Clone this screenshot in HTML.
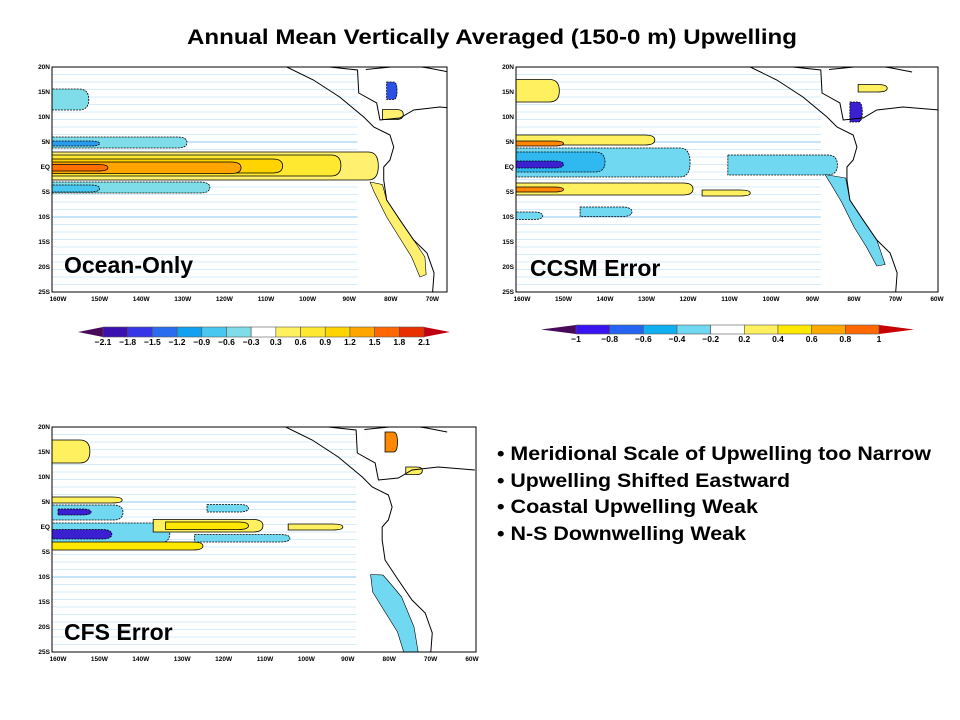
<!DOCTYPE html>
<html><head><meta charset="utf-8">
<style>
html,body{margin:0;padding:0;background:#fff;}
svg{display:block;font-family:"Liberation Sans",sans-serif;}
</style></head>
<body>
<svg id="fig" width="960" height="720" viewBox="0 0 960 720" xmlns="http://www.w3.org/2000/svg">
<text x="187" y="44" textLength="610" lengthAdjust="spacingAndGlyphs" font-size="21" font-weight="bold">Annual Mean Vertically Averaged (150-0 m) Upwelling</text>
<g id="p1"></g>
<g id="p2"></g>
<g id="p3"></g>
<g id="cb1"></g>
<g id="cb2"></g>
<g font-size="19" font-weight="bold">
<text x="497" y="460" textLength="434" lengthAdjust="spacingAndGlyphs">• Meridional Scale of Upwelling too Narrow</text>
<text x="497" y="487" textLength="293" lengthAdjust="spacingAndGlyphs">• Upwelling Shifted Eastward</text>
<text x="497" y="513" textLength="261" lengthAdjust="spacingAndGlyphs">• Coastal Upwelling Weak</text>
<text x="497" y="540" textLength="249" lengthAdjust="spacingAndGlyphs">• N-S Downwelling Weak</text>
</g>
</svg>
<script>
const NS="http://www.w3.org/2000/svg";
const lonTicks=[-160,-150,-140,-130,-120,-110,-100,-90,-80,-70,-60];
const lonLabels=["160W","150W","140W","130W","120W","110W","100W","90W","80W","70W","60W"];
const latTicks=[20,15,10,5,0,-5,-10,-15,-20,-25];
const latLabels=["20N","15N","10N","5N","EQ","5S","10S","15S","20S","25S"];
const cb1Levels=["-2.1","-1.8","-1.5","-1.2","-0.9","-0.6","-0.3","0.3","0.6","0.9","1.2","1.5","1.8","2.1"];
const cb1Colors=["#4a0a5a","#3a10b0","#3636e8","#2a6cf0","#12a0f0","#48c8f0","#7edde8","#ffffff","#fff060","#ffe830","#ffd400","#ffa500","#ff6800","#e83000","#c00010"];
const cb2Levels=["-1","-0.8","-0.6","-0.4","-0.2","0.2","0.4","0.6","0.8","1"];
const cb2Colors=["#4a0a5a","#3a14f0","#2464f0","#10b0f0","#70d8f0","#ffffff","#fff060","#ffe800","#ffa800","#ff6800","#c80000"];
const colorOf={"-1.5":"#2a50e8","-1.0":"#3a20d0","-0.9":"#48c8f0","-0.6":"#2a9cf0","-0.4":"#30b8f0","-0.3":"#7edde8","-0.2":"#70d8f0","0.2":"#fff060","0.3":"#fff070","0.4":"#ffe800","0.6":"#ffe830","0.8":"#ff8800","0.9":"#ffd400","1.2":"#ffa500","1.5":"#ff7000"};
// bands: [lonWest, lonEast, latSouth, latNorth, level]
const bands1=[[-162,-83,-2.6,3.0,"0.3"],[-162,-92,-1.8,2.4,"0.6"],[-162,-106,-1.2,1.6,"0.9"],[-162,-116,-1.3,1.0,"1.2"],[-162,-148,-0.8,0.5,"1.5"],
[-162,-129,3.8,6.0,"-0.3"],[-162,-150,4.2,5.2,"-0.6"],[-162,-123.5,-5.2,-3.0,"-0.3"],[-162,-150,-5.0,-3.6,"-0.9"],[-162,-152.6,11.4,15.6,"-0.3"],[-81,-78.5,13.5,17,"-1.5"],[-82,-77,9.5,11.5,"0.3"]];
const bands2=[[-162,-151,13,17.5,"0.2"],[-162,-128,4.4,6.4,"0.2"],[-162,-150,4.2,5.2,"0.8"],[-162,-119.5,-2.0,3.8,"-0.2"],[-162,-140,-1.0,3.0,"-0.4"],[-162,-150,-0.2,1.2,"-1.0"],
[-110.4,-84,-1.6,2.4,"-0.2"],[-162,-118.8,-5.6,-3.2,"0.2"],[-162,-150,-5.0,-4.0,"0.8"],[-116.6,-105,-5.8,-4.6,"0.2"],[-146,-133.5,-9.9,-8,"-0.2"],[-162,-155,-10.5,-9,"-0.2"],[-81,-78,9,13,"-1.0"],[-79,-72,15,16.5,"0.2"]];
const bands3=[[-162,-152.3,12.8,17.4,"0.2"],[-162,-144.5,4.8,6.0,"0.2"],[-162,-144.3,1.4,4.4,"-0.2"],[-160,-152,2.4,3.6,"-1.0"],[-162,-133,-3.2,0.8,"-0.2"],[-162,-147,-2.4,-0.5,"-1.0"],
[-162,-125,-4.6,-3.0,"0.4"],[-137,-110.5,-1,1.5,"0.2"],[-134,-114,-0.5,1.0,"0.4"],[-104.4,-91.2,-0.6,0.6,"0.2"],[-127,-104,-3,-1.5,"-0.2"],[-124,-114,3,4.5,"-0.2"],[-81,-78,15,19,"0.8"],[-76,-72,10.5,12,"0.2"]];
const strip1=[[-85,-3],[-82,-3.5],[-81,-6.6],[-77.8,-10.6],[-74.5,-14.6],[-71.8,-18],[-71.5,-21.5],[-73,-22],[-75,-18],[-78,-14],[-81,-10],[-84,-5]];
const strip2=[[-87,-1.5],[-82,-2.2],[-81,-6.6],[-77.8,-10.6],[-74.5,-14.6],[-72.5,-19.5],[-74.5,-19.8],[-77,-16],[-80,-12],[-83,-7],[-85.5,-3.5]];
const strip3=[[-84.5,-9.5],[-81.5,-9.6],[-79,-12],[-77,-14],[-75.5,-17],[-74,-20],[-73,-25],[-76.5,-25],[-78,-21],[-81,-17],[-84,-13]];
const coastW=[[-105,20],[-98.6,17.4],[-92.3,14],[-86.5,10],[-84.1,8],[-80.2,6.4],[-79.3,4],[-80.2,1.4],[-81.7,0],[-81.7,-2.6],[-81,-6.6],[-77.8,-10.6],[-74.5,-14.6],[-71.3,-17.2],[-69.6,-21.2],[-70,-25.5]];
const coastE=[[-94.7,20],[-88,19.4],[-87.7,14.8],[-83.4,12.8],[-82.6,9.4],[-77.8,9.8],[-74.5,11.4],[-68.2,12],[-59.3,11.4]];
const coastC=[[-86,19.5],[-80,20],[-75,20.3],[-71,19.8],[-66,19]];
function el(t,a,p){const e=document.createElementNS(NS,t);for(const k in a)e.setAttribute(k,a[k]);p.appendChild(e);return e;}
function panel(id,cfg,bands,label,lx,ly,strip,stripLv){
 const g=document.getElementById(id);
 const X=l=>cfg.x0+(l+160)*cfg.sx, Y=la=>cfg.yEq-la*5;
 const cid="clip"+id;
 const d=el("defs",{},g);const cp=el("clipPath",{id:cid},d);el("rect",{x:cfg.l,y:cfg.t,width:cfg.r-cfg.l,height:cfg.b-cfg.t},cp);
 const inner=el("g",{"clip-path":"url(#"+cid+")"},g);
 for(let la=-25;la<=20;la+=1.5){const ln=el("line",{x1:cfg.l,x2:X(-88),y1:Y(la),y2:Y(la),stroke:(Math.abs(la%5)<0.01)?"#8cc8f0":"#d4ecfa","stroke-width":1},inner);
  
  }
 bands.forEach(bd=>{const [w,e,s,n,lv]=bd;const xw=X(w),xe=X(e),ys=Y(s),yn=Y(n),ym=(ys+yn)/2;
  const k=Math.min(10,(xe-xw)/3);
  const dd=`M${xw},${yn} L${xe-k},${yn} Q${xe},${yn} ${xe},${ym} Q${xe},${ys} ${xe-k},${ys} L${xw},${ys} Z`;
  const p=el("path",{d:dd,fill:colorOf[lv],stroke:"#000","stroke-width":0.8,"stroke-dasharray":lv.startsWith("-")?"2,1":"none"},inner);
  
  });
 const sp=el("polygon",{points:strip.map(p=>X(p[0])+","+Y(p[1])).join(" "),fill:colorOf[stripLv],stroke:"#000","stroke-width":0.6,"stroke-linejoin":"round"},inner);
 
 
 [coastW,coastE,coastC].forEach(cs=>{const pl=el("polyline",{points:cs.map(p=>X(p[0])+","+Y(p[1])).join(" "),fill:"none",stroke:"#000","stroke-width":1},inner);
  
  });
 const fr=el("rect",{x:cfg.l,y:cfg.t,width:cfg.r-cfg.l,height:cfg.b-cfg.t,fill:"none",stroke:"#000","stroke-width":1},g);
 
 
 lonTicks.forEach((l,i)=>{const x=X(l);if(x>cfg.r+2)return;const t=el("text",{x:x,y:cfg.b+9,"text-anchor":"middle","font-size":6.5,"font-weight":"bold"},g);t.textContent=lonLabels[i];
  
  });
 latTicks.forEach((la,i)=>{const t=el("text",{x:cfg.l-2,y:Y(la)+2,"text-anchor":"end","font-size":6.5,"font-weight":"bold"},g);t.textContent=latLabels[i];
  
  });
 const lt=el("text",{x:lx,y:ly,"font-size":23,"font-weight":"bold"},g);lt.textContent=label;
 
 
}
panel("p1",{x0:58,sx:4.16,yEq:167,l:52,r:447,t:67,b:292},bands1,"Ocean-Only",64,273,strip1,"0.3");
panel("p2",{x0:522,sx:4.15,yEq:167,l:516,r:938,t:67,b:292},bands2,"CCSM Error",530,276,strip2,"-0.2");
panel("p3",{x0:58,sx:4.14,yEq:527,l:52,r:476,t:427,b:652},bands3,"CFS Error",64,640,strip3,"-0.2");
function colorbar(id,x0,x1,a0,a1,y,h,colors,levels){
 const g=document.getElementById(id);const n=colors.length-2;const w=(a1-a0)/n;
 const t1=el("polygon",{points:`${x0},${y+h/2} ${a0},${y} ${a0},${y+h}`,fill:colors[0]},g);
 
 
 const t2=el("polygon",{points:`${x1},${y+h/2} ${a1},${y} ${a1},${y+h}`,fill:colors[colors.length-1]},g);
 
 
 for(let i=0;i<n;i++){const r=el("rect",{x:a0+i*w,y:y,width:w,height:h,fill:colors[i+1],stroke:"#555","stroke-width":0.6},g);
  
  }
 levels.forEach((lv,i)=>{const t=el("text",{x:a0+i*w,y:y+h+8,"text-anchor":"middle","font-size":8.5,"font-weight":"bold"},g);t.textContent=lv.replace("-","\u2212");
  
  });
}
colorbar("cb1",78,450,103,424,327,10,cb1Colors,cb1Levels);
colorbar("cb2",541,914,576,879,325,9,cb2Colors,cb2Levels);
</script>
</body></html>
